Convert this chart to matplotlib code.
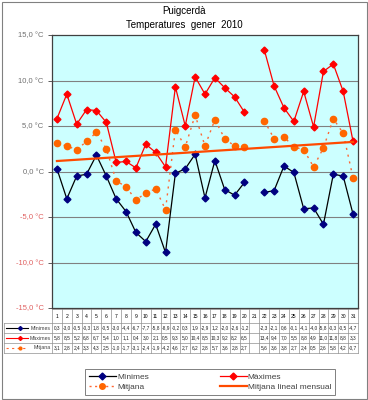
import numpy as np
import matplotlib
matplotlib.use("Agg")
from matplotlib import pyplot as plt
from matplotlib import transforms
from matplotlib.lines import Line2D
from matplotlib.patches import Rectangle

plt.rcParams['font.family'] = ['Liberation Sans', 'DejaVu Sans']

days = np.arange(1, 32)
nan = np.nan
minimes = [0.3, -3.0, -0.5, -0.3, 1.8, -0.5, -3.0, -4.4, -6.7, -7.7, -5.8, -8.9, -0.2, 0.3, 1.9, -2.9,
           1.2, -2.0, -2.6, -1.2, nan, -2.3, -2.1, 0.6, -0.1, -4.1, -4.0, -5.8, -0.3, -0.5, -4.7]
maximes = [5.8, 8.5, 5.2, 6.8, 6.7, 5.4, 1.0, 1.1, 0.4, 3.0, 2.1, 0.5, 9.3, 5.0, 10.4, 8.5,
           10.3, 9.2, 8.2, 6.5, nan, 13.4, 9.4, 7.0, 5.5, 8.8, 4.9, 11.0, 11.8, 8.8, 3.3]
mitjana = [3.1, 2.8, 2.4, 3.3, 4.3, 2.5, -1.0, -1.7, -3.1, -2.4, -1.9, -4.2, 4.6, 2.7, 6.2, 2.8,
           5.7, 3.6, 2.8, 2.7, nan, 5.6, 3.6, 3.8, 2.7, 2.4, 0.5, 2.6, 5.8, 4.2, -0.7]
yticks = [-15, -10, -5, 0, 5, 10, 15]

minimes = np.array(minimes)
maximes = np.array(maximes)
mitjana = np.array(mitjana)

W, H = 368, 400
fig = plt.figure(figsize=(W / 100, H / 100), dpi=100)
fig.patch.set_facecolor('white')
fig.add_artist(Rectangle((1.5 / W, 1.5 / H), (W - 3) / W, (H - 3) / H, transform=fig.transFigure,
                         fill=False, edgecolor='#808080', lw=0.8))

def fy(py):
    return 1 - py / H

ax = fig.add_axes([52 / W, fy(308), 306 / W, (308 - 35) / H])
ax.set_facecolor('#CCFFFF')
ax.set_xlim(0.5, 31.5)
ax.set_ylim(-15, 15)
for s in ax.spines.values():
    s.set_color('#404040')
    s.set_linewidth(0.9)
for v in yticks[1:-1]:
    ax.axhline(v, color='#808080', lw=0.8, zorder=1)

ax.set_yticks(yticks)
ax.set_yticklabels([('%.1f °C' % v).replace('.', ',') for v in yticks], fontsize=5.5)
for lab, v in zip(ax.get_yticklabels(), yticks):
    lab.set_color('#E06060' if v < 0 else '#707070')
ax.tick_params(axis='y', length=3, width=0.6, color='#404040', pad=3)
ax.set_xticks([])

ax.plot(days, minimes, color='black', lw=0.9, marker='D', ms=3.5, mfc='#000080', mec='#000080', zorder=4)
ax.plot(days, maximes, color='#FF0000', lw=0.9, marker='D', ms=3.5, mfc='#FF0000', mec='#FF0000', zorder=4)
ax.plot(days, mitjana, color='#FF6633', lw=1.0, ls=(0, (1.5, 3.5)), marker='o', ms=4.5,
        mfc='#FF6600', mec='#FF6600', zorder=3)
ok = ~np.isnan(mitjana)
k, b = np.polyfit(days[ok], mitjana[ok], 1)
ax.plot(days, k * days + b, color='#FF4A00', lw=1.6, zorder=5)

fig.text(0.5, fy(11), 'Puigcerdà', ha='center', va='center', fontsize=7)
fig.text(0.5, fy(25), 'Temperatures  gener  2010', ha='center', va='center', fontsize=7)

# data table
tr = transforms.blended_transform_factory(ax.transData, fig.transFigure)
rows_px = [309, 323, 333, 343, 353]
lc = '#909090'
x_left = 4 / W
for i, py in enumerate(rows_px):
    if i == 0:
        ax.plot([0.5, 31.5], [fy(py)] * 2, transform=tr, color=lc, lw=0.5, clip_on=False)
    else:
        fig.add_artist(Line2D([x_left, 358 / W], [fy(py)] * 2, color=lc, lw=0.5))
for xb in np.arange(0.5, 32, 1.0):
    ax.plot([xb, xb], [fy(rows_px[0]), fy(rows_px[-1])], transform=tr, color=lc, lw=0.5, clip_on=False)
fig.add_artist(Line2D([x_left, x_left], [fy(rows_px[1]), fy(rows_px[-1])], color=lc, lw=0.5))

def fmt(v):
    return '' if np.isnan(v) else ('%.1f' % v).replace('.', ',')

for d in days:
    ax.text(d, fy(316), str(d), transform=tr, ha='center', va='center', fontsize=3.6, clip_on=False)
series = [(minimes, 'Mínimes'), (maximes, 'Màximes'), (mitjana, 'Mitjana')]
for r, (vals, name) in enumerate(series):
    yc = fy((rows_px[r + 1] + rows_px[r + 2]) / 2)
    for d, v in zip(days, vals):
        ax.text(d, yc, fmt(v), transform=tr, ha='center', va='center', fontsize=3.4,
                color='#202020', clip_on=False)
    fig.text(51 / W, yc, name, ha='right', va='center', fontsize=3.8, color='#404040')

kx = [6 / W, 28 / W]
fig.add_artist(Line2D(kx, [fy(328)] * 2, color='black', lw=0.8))
fig.add_artist(Line2D([20 / W], [fy(328)], marker='D', ms=2, color='#000080'))
fig.add_artist(Line2D(kx, [fy(338)] * 2, color='#FF0000', lw=0.8))
fig.add_artist(Line2D([20 / W], [fy(338)], marker='D', ms=2, color='#FF0000'))
fig.add_artist(Line2D(kx, [fy(348)] * 2, color='#FF6633', lw=0.8, ls=(0, (2, 3))))
fig.add_artist(Line2D([20 / W], [fy(348)], marker='o', ms=2, color='#FF6600'))

handles = [
    Line2D([], [], color='black', lw=0.9, marker='D', ms=3.5, mfc='#000080', mec='#000080'),
    Line2D([], [], color='#FF6633', lw=1.0, ls=(0, (1.5, 2.5)), marker='o', ms=4, mfc='#FF6600', mec='#FF6600'),
    Line2D([], [], color='#FF0000', lw=0.9, marker='D', ms=3.5, mfc='#FF0000', mec='#FF0000'),
    Line2D([], [], color='#FF4A00', lw=1.6),
]
labels = ['Mínimes', 'Mitjana', 'Màximes', 'Mitjana lineal mensual']
leg = fig.legend(handles, labels, ncol=2, loc='center', bbox_to_anchor=(210 / W, fy(382)),
                 fontsize=6, frameon=True, fancybox=False, edgecolor='#606060',
                 handlelength=3.3, handletextpad=0.1, columnspacing=8.5, labelspacing=0.35,
                 borderpad=0.4, borderaxespad=0)
leg.get_frame().set_linewidth(0.7)
for t in leg.get_texts():
    t.set_color('#404040')

fig.savefig('out.png', dpi=100)
